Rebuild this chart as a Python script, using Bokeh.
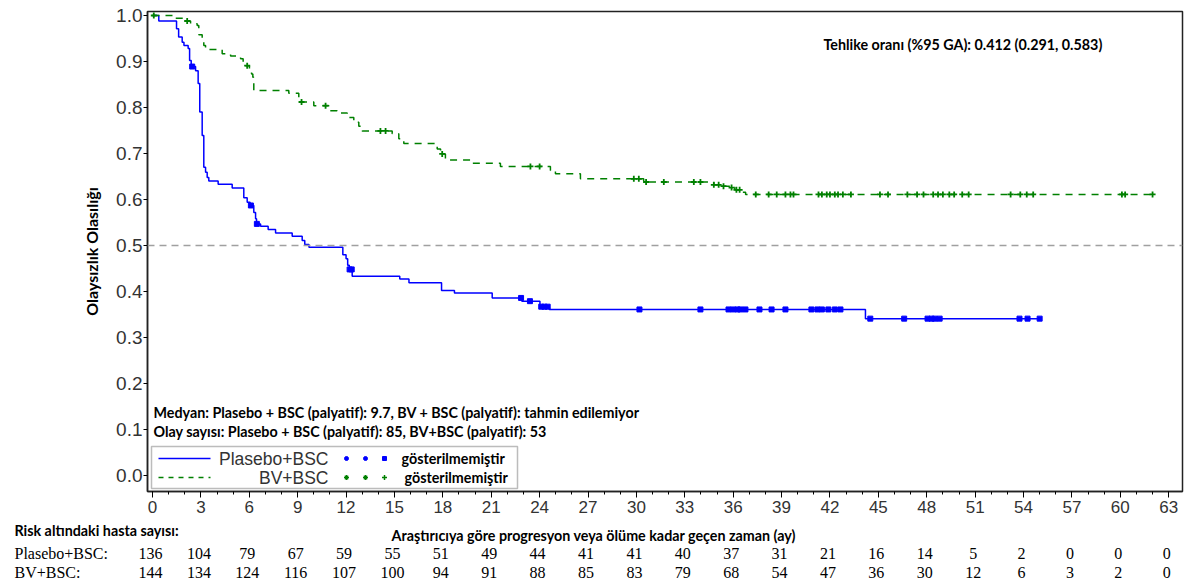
import numpy as np
from bokeh.plotting import figure
from bokeh.layouts import column, row
from bokeh.models import (Range1d, FixedTicker, Label, LabelSet, ColumnDataSource,
                          BoxAnnotation, Span, PrintfTickFormatter)
from bokeh.embed import file_html
from bokeh.resources import INLINE

# ---------------- data ----------------
placebo_t = [0, 0.39, 1.49, 1.62, 1.84, 1.95, 2.21, 2.30, 2.40, 2.67, 2.83, 2.93, 3.08, 3.18,
             3.29, 3.39, 3.49, 4.07, 4.94, 5.66, 5.87, 6.05, 6.28, 6.39, 6.45, 6.70, 7.17,
             7.63, 8.66, 9.28, 9.44, 9.70, 11.80, 12.00, 12.10, 12.20, 12.38, 15.33, 15.90,
             17.92, 18.72, 21.06, 22.90, 24.02, 24.60, 44.20]
placebo_s = [1.0, 0.988, 0.971, 0.953, 0.942, 0.935, 0.928, 0.902, 0.889, 0.880, 0.852, 0.790,
             0.739, 0.670, 0.659, 0.648, 0.640, 0.633, 0.625, 0.604, 0.594, 0.587, 0.572,
             0.558, 0.547, 0.542, 0.535, 0.527, 0.520, 0.511, 0.502, 0.496, 0.480, 0.471,
             0.457, 0.448, 0.433, 0.427, 0.419, 0.402, 0.397, 0.386, 0.379, 0.367, 0.361, 0.341]
placebo_end = 55.0
placebo_cens = [2.46, 6.10, 6.47, 12.22, 12.35, 22.85, 23.40, 24.10, 24.30, 24.50, 30.19,
                33.97, 35.71, 36.00, 36.27, 36.45, 36.76, 37.63, 38.38, 39.24, 40.85, 41.22,
                41.50, 41.90, 42.30, 42.65, 44.50, 46.60, 48.05, 48.30, 48.50, 48.80, 53.75,
                54.25, 55.0]

bv_t = [0, 1.32, 2.05, 2.36, 2.77, 2.87, 3.08, 3.18, 3.29, 4.32, 4.84, 5.46, 5.62, 5.77, 6.01,
        6.14, 6.22, 6.28, 8.45, 9.07, 10.00, 10.93, 11.45, 12.07, 12.48, 12.79, 13.00, 14.86,
        15.27, 15.58, 17.65, 17.86, 18.16, 19.82, 21.57, 24.67, 24.98, 26.53, 30.45, 34.80,
        35.25, 35.80, 36.10, 36.50, 36.77]
bv_s = [1.0, 0.994, 0.988, 0.982, 0.978, 0.958, 0.949, 0.935, 0.926, 0.917, 0.912, 0.906,
        0.898, 0.891, 0.880, 0.873, 0.866, 0.837, 0.831, 0.812, 0.804, 0.793, 0.788, 0.778,
        0.768, 0.759, 0.749, 0.743, 0.732, 0.722, 0.710, 0.699, 0.686, 0.679, 0.672, 0.663,
        0.656, 0.645, 0.638, 0.632, 0.629, 0.626, 0.621, 0.616, 0.611]
bv_end = 62.0
bv_cens = [0.08, 2.15, 5.87, 9.24, 10.73, 14.13, 14.45, 17.96, 23.43, 24.00, 29.84, 30.15,
           30.60, 31.70, 33.56, 33.97, 34.80, 35.10, 35.40, 35.90, 36.20, 36.40, 37.40, 38.20,
           38.70, 39.24, 39.55, 39.74, 41.29, 41.50, 41.80, 42.00, 42.30, 42.50, 42.80, 43.30,
           45.10, 45.60, 46.80, 47.40, 47.80, 48.40, 48.70, 49.00, 49.40, 49.70, 50.20, 50.60,
           53.20, 53.80, 54.20, 54.60, 60.10, 60.30, 62.0]

risk_times = [0, 3, 6, 9, 12, 15, 18, 21, 24, 27, 30, 33, 36, 39, 42, 45, 48, 51, 54, 57, 60, 63]
risk_placebo = [136, 104, 79, 67, 59, 55, 51, 49, 44, 41, 41, 40, 37, 31, 21, 16, 14, 5, 2, 0, 0, 0]
risk_bv = [144, 134, 124, 116, 107, 100, 94, 91, 88, 85, 83, 79, 68, 54, 47, 36, 30, 12, 6, 3, 2, 0]

y_ticks = [0.0, 0.1, 0.2, 0.3, 0.4, 0.5, 0.6, 0.7, 0.8, 0.9, 1.0]
minor_x = list(range(0, 64))

BLUE = "#0000FF"
GREEN = "#008000"
BOLD_FONT = "Lato"
BOLD_SIZE = "14.3px"

# pixel -> data helpers (page pixel coordinates)
PX_PER_X = 16.13
PX_PER_Y = 460.0
def dx(px):
    return (px - 152) / PX_PER_X
def dy(py):
    return (475 - py) / PX_PER_Y

X0, X1 = dx(147), dx(1182)
Y0, Y1 = dy(491), dy(11)

W = 1196
H1 = 520
H2 = 65

p = figure(width=W, height=H1, x_range=Range1d(X0, X1), y_range=Range1d(Y0, Y1),
           output_backend="svg", toolbar_location=None,
           min_border_left=147, min_border_right=W - 1182, min_border_top=11,
           min_border_bottom=H1 - 491)
p.xgrid.visible = False
p.ygrid.visible = False
p.outline_line_color = "#222222"
p.outline_line_width = 1.5

# axes
p.xaxis.ticker = FixedTicker(ticks=risk_times, minor_ticks=minor_x)
p.xaxis.major_label_text_font = "Liberation Sans"
p.xaxis.major_label_text_font_size = "17px"
p.xaxis.major_label_text_color = "#333333"
p.xaxis.major_tick_out = 6
p.xaxis.major_tick_in = 0
p.xaxis.minor_tick_out = 3
p.xaxis.minor_tick_in = 0
p.xaxis.major_label_standoff = 3
p.xaxis.axis_line_color = "#222222"
p.xaxis.axis_line_width = 1.5

p.yaxis.ticker = FixedTicker(ticks=y_ticks, minor_ticks=[])
p.yaxis.formatter = PrintfTickFormatter(format="%.1f")
p.yaxis.major_label_text_font = "Liberation Sans"
p.yaxis.major_label_text_font_size = "19px"
p.yaxis.major_label_text_color = "#333333"
p.yaxis.major_tick_out = 4
p.yaxis.major_tick_in = 0
p.yaxis.major_label_standoff = 1
p.yaxis.axis_line_color = "#222222"
p.yaxis.axis_line_width = 1.5
p.yaxis.axis_label = "Olaysızlık Olasılığı"
p.yaxis.axis_label_text_font = BOLD_FONT
p.yaxis.axis_label_text_font_style = "bold"
p.yaxis.axis_label_text_font_size = "16px"
p.yaxis.axis_label_text_color = "black"
p.yaxis.axis_label_standoff = 12

# reference line at 0.5
p.add_layout(Span(location=0.5, dimension="width", line_color="#A0A0A0",
                  line_dash="7 5", line_width=1.5))

# KM curves
def step_xy(t, s, end):
    return list(t) + [end], list(s) + [s[-1]]

def at(t, s, c):
    ta = np.array(t)
    idx = np.searchsorted(ta, np.array(c), side="right") - 1
    return list(np.array(s)[idx])

bx, by = step_xy(placebo_t, placebo_s, placebo_end)
p.step(bx, by, mode="after", line_color=BLUE, line_width=1.5)
gx, gy = step_xy(bv_t, bv_s, bv_end)
p.step(gx, gy, mode="after", line_color=GREEN, line_width=1.5, line_dash="7 6")

p.scatter(placebo_cens, at(placebo_t, placebo_s, placebo_cens), marker="square",
          size=5, fill_color=BLUE, line_color=BLUE)
p.scatter(bv_cens, at(bv_t, bv_s, bv_cens), marker="cross",
          size=6, line_color=GREEN, line_width=1.8)

# annotations inside the plot
def lab(fig, x, y, text, size=BOLD_SIZE, font=BOLD_FONT, style="bold", align="left",
        color="black"):
    fig.add_layout(Label(x=x, y=y, text=text, text_font=font, text_font_style=style,
                         text_font_size=size, text_align=align, text_baseline="middle",
                         text_color=color))

lab(p, dx(823), dy(44), "Tehlike oranı (%95 GA): 0.412 (0.291, 0.583)")
lab(p, dx(153), dy(412), "Medyan: Plasebo + BSC (palyatif): 9.7, BV + BSC (palyatif): tahmin edilemiyor")
lab(p, dx(153), dy(431), "Olay sayısı: Plasebo + BSC (palyatif): 85, BV+BSC (palyatif): 53")

# legend
p.add_layout(BoxAnnotation(left=dx(151), right=dx(517), top=dy(446), bottom=dy(488),
                           fill_color="white", fill_alpha=1.0, line_color="#222222",
                           line_width=1.5, level="underlay"))
p.line([dx(158), dx(210)], [dy(458), dy(458)], line_color=BLUE, line_width=1.5)
p.line([dx(158), dx(210)], [dy(477), dy(477)], line_color=GREEN, line_width=1.5,
       line_dash="5 5")
lab(p, dx(328), dy(458), "Plasebo+BSC", size="17.5px", font="Liberation Sans", style="normal",
    align="right", color="#333333")
lab(p, dx(328), dy(477), "BV+BSC", size="17.5px", font="Liberation Sans", style="normal",
    align="right", color="#333333")
p.scatter([dx(346), dx(365)], [dy(458)] * 2, marker="circle", size=4,
          fill_color=BLUE, line_color=BLUE)
p.scatter([dx(384)], [dy(458)], marker="square", size=4, fill_color=BLUE, line_color=BLUE)
p.scatter([dx(346), dx(365)], [dy(477)] * 2, marker="asterisk", size=5, line_color=GREEN,
          line_width=1.2)
p.scatter([dx(384)], [dy(477)], marker="cross", size=5, line_color=GREEN, line_width=1.5)
lab(p, dx(401), dy(458), "gösterilmemiştir")
lab(p, dx(404), dy(477), "gösterilmemiştir")

# ---------------- risk table panel (same x scale, y = page pixel row) ----------------
q = figure(width=W, height=H2, x_range=Range1d(dx(0), dx(W)), y_range=Range1d(H1 + H2, H1),
           output_backend="svg", toolbar_location=None, x_axis_type=None, y_axis_type=None,
           min_border_left=0, min_border_right=0, min_border_top=0, min_border_bottom=0)
q.outline_line_color = None
q.xgrid.visible = False
q.ygrid.visible = False

lab(q, dx(391), 535, "Araştırıcıya göre progresyon veya ölüme kadar geçen zaman (ay)")
lab(q, dx(14), 530, "Risk altındaki hasta sayısı:")
lab(q, dx(14), 553, "Plasebo+BSC:", size="16px", font="Liberation Serif", style="normal")
lab(q, dx(14), 572, "BV+BSC:", size="16px", font="Liberation Serif", style="normal")

src = ColumnDataSource(dict(x=risk_times, yp=[553] * len(risk_times),
                            yb=[572] * len(risk_times),
                            tp=[str(v) for v in risk_placebo],
                            tb=[str(v) for v in risk_bv]))
q.add_layout(LabelSet(x="x", y="yp", text="tp", source=src, text_align="center",
                      text_baseline="middle", text_font="Liberation Serif",
                      text_font_size="16px", text_color="black", x_offset=-2))
q.add_layout(LabelSet(x="x", y="yb", text="tb", source=src, text_align="center",
                      text_baseline="middle", text_font="Liberation Serif",
                      text_font_size="16px", text_color="black", x_offset=-2))

try:
    p.frame_align = False
    q.frame_align = False
    layout = column(p, q, spacing=0)
except Exception:
    layout = column(p, row(q), spacing=0)

open("out.html", "w").write(file_html(layout, INLINE))
